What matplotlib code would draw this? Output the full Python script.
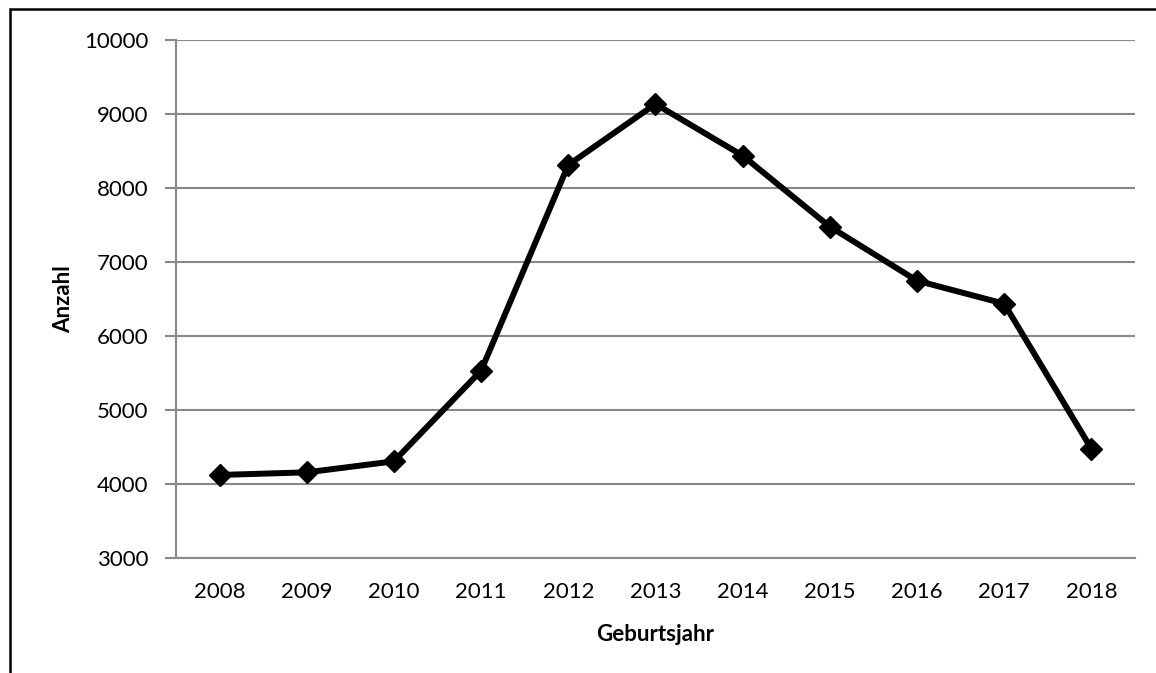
import matplotlib.pyplot as plt
from matplotlib.patches import Rectangle

# Anzahl nach Geburtsjahr
jahre = ['2008', '2009', '2010', '2011', '2012', '2013',
         '2014', '2015', '2016', '2017', '2018']
anzahl = [4122, 4157, 4306, 5531, 8311, 9135, 8437, 7477, 6747, 6436, 4477]
y_ticks = [3000, 4000, 5000, 6000, 7000, 8000, 9000, 10000]

plt.rcParams['font.family'] = ['Lato', 'DejaVu Sans']
grey = '#888888'

fig = plt.figure(figsize=(11.56, 6.73), dpi=100)
ax = fig.add_axes([0.1522, 0.1709, 0.9818 - 0.1522, 0.9406 - 0.1709])

x = list(range(len(jahre)))
ax.plot(x, anzahl, color='black', linewidth=4.3, marker='D',
        markersize=11, solid_joinstyle='miter', zorder=3)

ax.set_xlim(-0.5, len(jahre) - 0.5)
ax.set_ylim(3000, 10000)
ax.set_yticks(y_ticks)
ax.set_xticks(x)
ax.set_xticklabels(jahre)
ax.grid(axis='y', color=grey, linewidth=1.5)
ax.set_axisbelow(True)

for side in ['top', 'right']:
    ax.spines[side].set_visible(False)
for side in ['left', 'bottom']:
    ax.spines[side].set_color(grey)
    ax.spines[side].set_linewidth(1.5)

ax.tick_params(axis='y', length=8, width=1.5, color=grey, pad=12, labelsize=16)
ax.tick_params(axis='x', length=0, pad=17, labelsize=16)

ax.set_xlabel('Geburtsjahr', fontsize=16, fontweight='bold', labelpad=16)
ax.set_ylabel('Anzahl', fontsize=16, fontweight='bold', labelpad=7)

# Rahmen um das Diagramm
fig.patches.append(Rectangle((9.5 / 1156, -0.1), 1.2, 1.1 - 9.5 / 673,
                             transform=fig.transFigure, fill=False,
                             edgecolor='black', linewidth=1.8))

fig.savefig('out.png', dpi=100)
